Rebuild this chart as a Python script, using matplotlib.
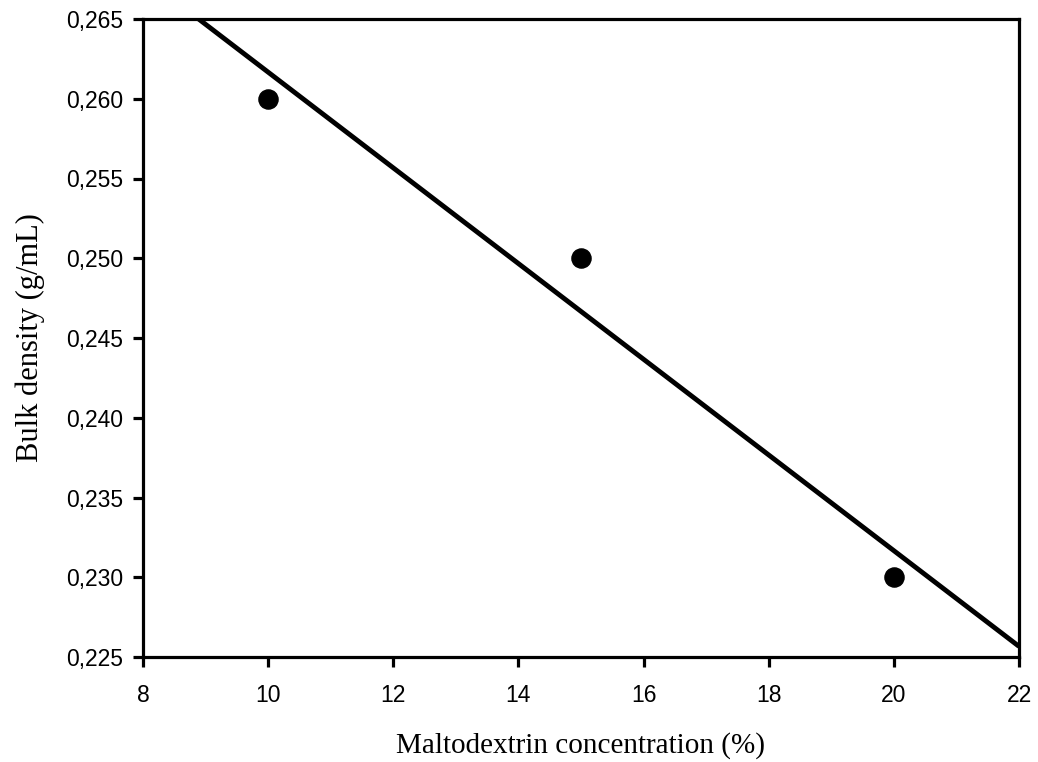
import numpy as np
import matplotlib
matplotlib.use("Agg")
import matplotlib.pyplot as plt
from matplotlib.ticker import FuncFormatter

# data
maltodextrin = [10, 15, 20]
bulk_density = [0.260, 0.250, 0.230]

xticks = [8, 10, 12, 14, 16, 18, 20, 22]
yticks = [0.225, 0.230, 0.235, 0.240, 0.245, 0.250, 0.255, 0.260, 0.265]

fig = plt.figure(figsize=(10.38, 7.62), dpi=100)
ax = fig.add_axes([143 / 1038, 1 - 657 / 762, (1019 - 143) / 1038, (657 - 19) / 762])

# linear regression through the points
slope, intercept = np.polyfit(maltodextrin, bulk_density, 1)
xs = np.array([8, 22])
ax.plot(xs, slope * xs + intercept, color="black", lw=3.5, solid_capstyle="butt")

ax.scatter(maltodextrin, bulk_density, s=190, color="black", zorder=3)

ax.set_xlim(8, 22)
ax.set_ylim(0.225, 0.265)
ax.set_xticks(xticks)
ax.set_yticks(yticks)
ax.yaxis.set_major_formatter(FuncFormatter(lambda v, p: f"{v:.3f}".replace(".", ",")))

for s in ax.spines.values():
    s.set_linewidth(2.3)
ax.tick_params(direction="out", length=7.5, width=2.3, labelsize=16.5)
ax.tick_params(axis="x", pad=12)
ax.tick_params(axis="y", pad=7)
for lab in ax.get_xticklabels() + ax.get_yticklabels():
    lab.set_fontfamily("Liberation Sans")

ax.set_xlabel("Maltodextrin concentration (%)", fontsize=21, fontfamily="Liberation Serif", labelpad=18)
ax.set_ylabel("Bulk density (g/mL)", fontsize=22, fontfamily="Liberation Serif", labelpad=15)

fig.savefig("out.png", dpi=100)
